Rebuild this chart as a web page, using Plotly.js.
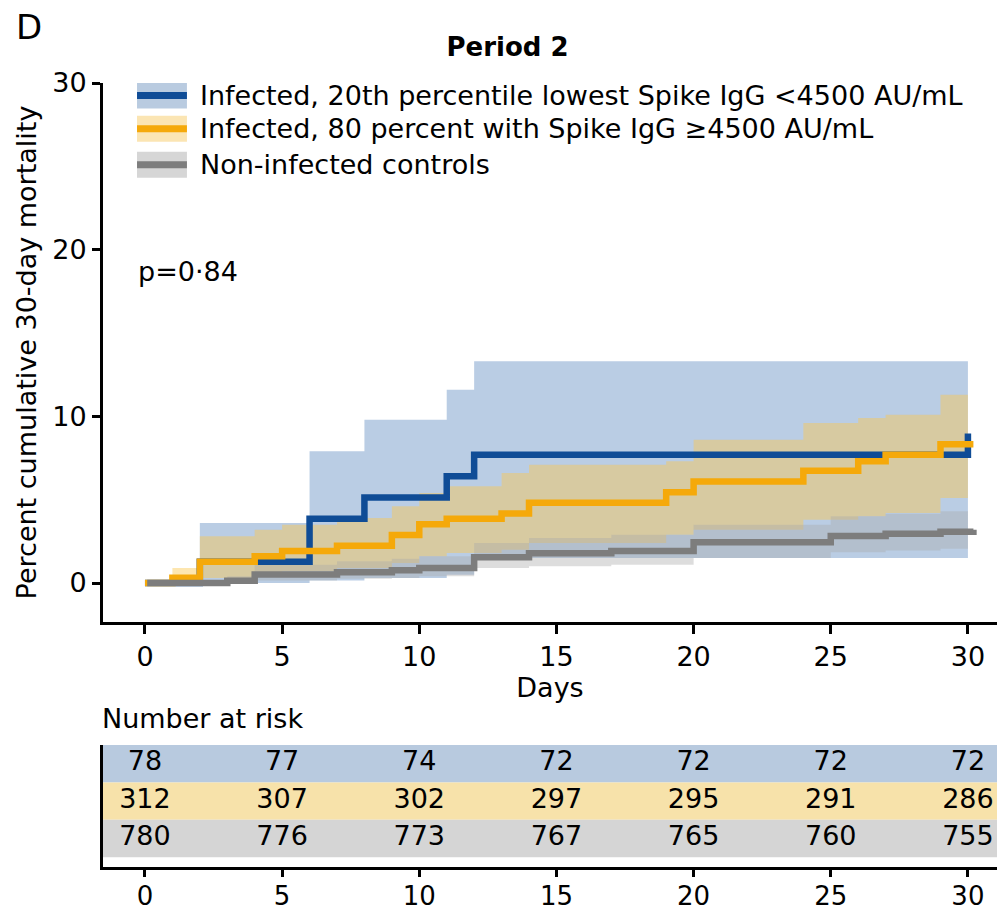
<!DOCTYPE html>
<html><head><meta charset="utf-8">
<script src="https://cdn.plot.ly/plotly-3.0.1.min.js"></script>
<style>html,body{margin:0;padding:0;background:#fff;} #chart{width:997px;height:915px;}</style>
</head><body><div id="chart"></div>
<script>
const FONT = 'DejaVu Sans, sans-serif';

// ---- Kaplan-Meier cumulative mortality (percent) ----
const blueName = 'Infected, 20th percentile lowest Spike IgG <4500 AU/mL';
const orangeName = 'Infected, 80 percent with Spike IgG \u22654500 AU/mL';
const grayName = 'Non-infected controls';

const blueT = [0, 2, 6, 8, 11, 12, 30];
const blueY = [0, 1.28, 3.85, 5.13, 6.41, 7.69, 8.97];
const blueBandT = [2, 6, 8, 11, 12, 30];
const blueUpper = [3.6, 7.9, 9.8, 11.6, 13.3, 13.3];
const blueLower = [0, 0.15, 0.3, 0.5, 1.5, 1.5];

const orangeT = [0, 1, 2, 4, 5, 7, 9, 10, 11, 13, 14, 19, 20, 24, 26, 27, 29, 30.2];
const orangeY = [0, 0.32, 1.28, 1.60, 1.92, 2.24, 2.88, 3.53, 3.85, 4.17, 4.81, 5.45, 6.09, 6.73, 7.3, 7.69, 8.33, 8.33];
const orangeBandT = [1, 2, 4, 5, 7, 9, 10, 11, 13, 14, 19, 20, 24, 26, 27, 29, 30];
const orangeUpper = [0.9, 2.8, 3.2, 3.5, 3.9, 4.6, 5.4, 5.8, 6.6, 7.1, 7.3, 8.6, 9.6, 9.9, 10.1, 11.3, 11.3];
const orangeLower = [0, 0.3, 0.5, 0.7, 0.9, 1.2, 1.6, 1.8, 2.0, 2.4, 2.9, 3.2, 3.8, 4.0, 4.2, 5.1, 5.1];

const grayT = [0.08, 3, 4, 7, 9, 10, 12, 14, 17, 20, 25, 27, 29, 30.2];
const grayY = [0, 0.13, 0.51, 0.64, 0.77, 0.90, 1.54, 1.79, 1.92, 2.44, 2.82, 2.95, 3.08, 3.20];
const grayBandT = [0.08, 3, 4, 7, 9, 10, 12, 14, 17, 20, 25, 27, 29, 30];
const grayUpper = [0, 0.4, 1.1, 1.3, 1.45, 1.6, 2.4, 2.7, 2.9, 3.5, 4.0, 4.15, 4.3, 4.5];
const grayLower = [0, 0, 0.15, 0.25, 0.3, 0.4, 0.9, 1.0, 1.1, 1.5, 1.85, 1.95, 2.05, 2.1];

// ---- Number at risk ----
const riskDays = [0, 5, 10, 15, 20, 25, 30];
const riskBlue = [78, 77, 74, 72, 72, 72, 72];
const riskOrange = [312, 307, 302, 297, 295, 291, 286];
const riskGray = [780, 776, 773, 767, 765, 760, 755];

const xTicks = [0, 5, 10, 15, 20, 25, 30];
const yTicks = [0, 10, 20, 30];

// ---- styles ----
const C = {
  blueLine: '#0f4c96', blueFill: 'rgba(90,135,190,0.42)', blueLeg: '#b9cbe0', blueRow: '#b8cadf',
  orLine: '#f5a90a', orFill: 'rgba(250,200,80,0.45)', orLeg: '#fbe5b3', orRow: '#f7e2aa',
  grLine: '#7d7d7d', grFill: 'rgba(170,170,170,0.40)', grLeg: '#d6d6d6', grRow: '#d5d5d5'
};

function band(t, lo, up, fill) {
  return [
    {x: t, y: lo, type: 'scatter', mode: 'lines', line: {width: 0, shape: 'hv'}, hoverinfo: 'skip', showlegend: false, xaxis: 'x', yaxis: 'y'},
    {x: t, y: up, type: 'scatter', mode: 'lines', line: {width: 0, shape: 'hv'}, fill: 'tonexty', fillcolor: fill, hoverinfo: 'skip', showlegend: false, xaxis: 'x', yaxis: 'y'}
  ];
}
function step(t, y, color, name) {
  return {x: t, y: y, name: name, type: 'scatter', mode: 'lines', line: {width: 6.5, color: color, shape: 'hv'}, showlegend: false, xaxis: 'x', yaxis: 'y'};
}
function riskRow(vals, row) {
  return {x: riskDays, y: riskDays.map(() => row), text: vals.map(String), type: 'scatter', mode: 'text',
    textposition: 'middle center', textfont: {family: FONT, size: 27, color: '#000'}, cliponaxis: false,
    hoverinfo: 'skip', showlegend: false, xaxis: 'x2', yaxis: 'y2'};
}

const traces = [].concat(
  band(blueBandT, blueLower, blueUpper, C.blueFill),
  band(orangeBandT, orangeLower, orangeUpper, C.orFill),
  band(grayBandT, grayLower, grayUpper, C.grFill),
  [step(blueT, blueY, C.blueLine, blueName), step(orangeT, orangeY, C.orLine, orangeName), step(grayT, grayY, C.grLine, grayName)],
  [riskRow(riskBlue, 2.5), riskRow(riskOrange, 1.5), riskRow(riskGray, 0.5)]
);

// legend swatches (drawn in data units of the upper panel)
const legRows = [
  {y: 29.25, bg: C.blueLeg, line: C.blueLine, text: blueName},
  {y: 27.25, bg: C.orLeg, line: C.orLine, text: orangeName},
  {y: 25.1, bg: C.grLeg, line: C.grLine, text: grayName}
];
const shapes = [];
const annotations = [];
legRows.forEach(r => {
  shapes.push({type: 'rect', xref: 'x', yref: 'y', x0: -0.29, x1: 1.53, y0: r.y - 0.78, y1: r.y + 0.78, fillcolor: r.bg, line: {width: 0}});
  shapes.push({type: 'line', xref: 'x', yref: 'y', x0: -0.29, x1: 1.53, y0: r.y, y1: r.y, line: {color: r.line, width: 7}});
  annotations.push({xref: 'x', yref: 'y', x: 1.95, y: r.y, xanchor: 'left', yanchor: 'middle', text: r.text, showarrow: false, font: {family: FONT, size: 27, color: '#000'}});
});
// risk table row backgrounds
[[2, 3, C.blueRow], [1, 2, C.orRow], [0, 1, C.grRow]].forEach(r => {
  shapes.push({type: 'rect', xref: 'paper', yref: 'y2', x0: 0, x1: 1, y0: r[0], y1: r[1], fillcolor: r[2], line: {width: 0}, layer: 'below'});
});

annotations.push({xref: 'x', yref: 'y', x: -0.32, y: 18.7, xanchor: 'left', yanchor: 'middle', text: 'p=0\u00b784', showarrow: false, font: {family: FONT, size: 27, color: '#000'}});
annotations.push({xref: 'paper', yref: 'paper', x: -0.0035, y: 0.190, xanchor: 'left', yanchor: 'middle', text: 'Number at risk', showarrow: false, font: {family: FONT, size: 27, color: '#000'}});
annotations.push({xref: 'paper', yref: 'paper', x: -0.0828, y: 1.072, xanchor: 'center', yanchor: 'middle', text: 'D', showarrow: false, font: {family: FONT, size: 34, color: '#000'}});

const axisCommon = {showline: true, linewidth: 3, linecolor: '#000', ticks: 'outside', ticklen: 9, tickwidth: 3, tickcolor: '#000',
  showgrid: false, zeroline: false, automargin: false, fixedrange: true, tickfont: {family: FONT, size: 27, color: '#000'}};

const layout = {
  width: 997, height: 915,
  margin: {l: 103, r: 0, t: 83, b: 48},
  paper_bgcolor: '#fff', plot_bgcolor: 'rgba(0,0,0,0)',
  font: {family: FONT, color: '#000'},
  showlegend: false,
  title: {text: '<b>Period 2</b>', font: {family: FONT, size: 26, color: '#000'}, xref: 'paper', x: 0.4525, xanchor: 'center', yref: 'container', y: 0.949, yanchor: 'middle'},
  xaxis: Object.assign({}, axisCommon, {domain: [0, 1], anchor: 'y', range: [-1.53, 31.06], tickvals: xTicks,
    title: {text: 'Days', font: {family: FONT, size: 27, color: '#000'}, standoff: 2}}),
  yaxis: Object.assign({}, axisCommon, {domain: [0.3125, 1], anchor: 'x', range: [-2.34, 30], tickvals: yTicks, ticklen: 8,
    title: {text: 'Percent cumulative 30-day mortality', font: {family: FONT, size: 27, color: '#000'}, standoff: 8}}),
  xaxis2: Object.assign({}, axisCommon, {domain: [0, 1], anchor: 'y2', range: [-1.53, 31.06], tickvals: xTicks, ticklen: 7,
    ticklabelstandoff: -3, tickfont: {family: FONT, size: 26, color: '#000'}}),
  yaxis2: {domain: [0, 0.1556], anchor: 'x2', range: [-0.26, 3], showline: true, linewidth: 3, linecolor: '#000', ticks: '',
    showticklabels: false, showgrid: false, zeroline: false, fixedrange: true},
  shapes: shapes,
  annotations: annotations
};

Plotly.newPlot('chart', traces, layout, {displayModeBar: false, staticPlot: true});
</script>
</body></html>
